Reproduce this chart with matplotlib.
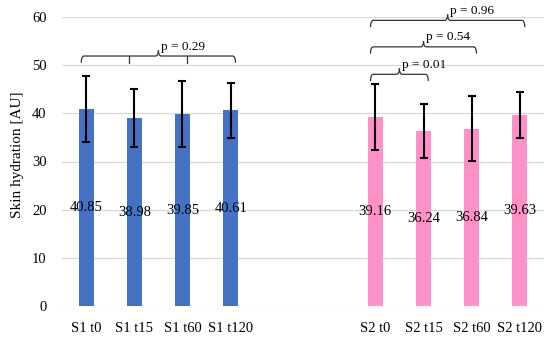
import numpy as np
import matplotlib
matplotlib.use('Agg')
import matplotlib.pyplot as plt
from matplotlib.path import Path
from matplotlib.patches import PathPatch

# data
labels = ['S1 t0', 'S1 t15', 'S1 t60', 'S1 t120', '', '',
          'S2 t0', 'S2 t15', 'S2 t60', 'S2 t120']
s1_vals = [40.85, 38.98, 39.85, 40.61]
s1_err = [6.85, 6.05, 6.8, 5.7]
s2_vals = [39.16, 36.24, 36.84, 39.63]
s2_err = [6.85, 5.6, 6.7, 4.8]
s1_pos = [0, 1, 2, 3]
s2_pos = [6, 7, 8, 9]

# significance brackets: (start, end, level, p label, extra down ticks)
brackets = [(-0.1, 3.1, 51.9, 'p = 0.29', [0.9, 2.1]),
            (5.9, 7.1, 48.1, 'p = 0.01', []),
            (5.9, 8.1, 53.8, 'p = 0.54', []),
            (5.9, 9.1, 59.3, 'p = 0.96', [])]

plt.rcParams['font.family'] = ['Liberation Serif', 'DejaVu Serif']

fig = plt.figure(figsize=(5.5, 3.4), dpi=100)
ax = fig.add_axes([0.1127, 0.1, 0.8764, 0.85])

w = 0.31
ekw = dict(ecolor='black', elinewidth=1.5, capsize=3.2, capthick=1.5)
ax.bar(s1_pos, s1_vals, w, yerr=s1_err, color='#4472c4', error_kw=ekw, zorder=2)
ax.bar(s2_pos, s2_vals, w, yerr=s2_err, color='#ff91c8', error_kw=ekw, zorder=2)

# value labels in the middle of each bar
for x, v in zip(s1_pos + s2_pos, s1_vals + s2_vals):
    ax.text(x, v / 2, f'{v:.2f}', ha='center', va='center', fontsize=10.5, zorder=3)


def brace(x0, x1, h, text, ticks):
    rx, d, u = 0.06, 1.4, 1.2
    xc = (x0 + x1) / 2
    verts = [(x0, h - d), (x0, h), (x0 + rx, h), (xc - rx, h), (xc, h), (xc, h + u),
             (xc, h), (xc + rx, h), (x1 - rx, h), (x1, h), (x1, h - d)]
    codes = [Path.MOVETO, Path.CURVE3, Path.CURVE3, Path.LINETO, Path.CURVE3, Path.CURVE3,
             Path.CURVE3, Path.CURVE3, Path.LINETO, Path.CURVE3, Path.CURVE3]
    ax.add_patch(PathPatch(Path(verts, codes), fill=False, lw=0.9, color='#333333',
                           clip_on=False, zorder=3))
    for t in ticks:
        ax.plot([t, t], [h, h - d], color='#333333', lw=0.9, clip_on=False, zorder=3)
    ax.text(xc + 0.06, h + u - 0.5, text, ha='left', va='bottom', fontsize=9.5, clip_on=False)


for b in brackets:
    brace(*b)

ax.set_xlim(-0.5, 9.5)
ax.set_ylim(0, 60)
ax.set_yticks(np.arange(0, 61, 10))
ax.set_xticks(range(len(labels)))
ax.set_xticklabels(labels)
ax.tick_params(axis='both', length=0, labelsize=10.5)
ax.tick_params(axis='y', pad=11)
ax.tick_params(axis='x', pad=11.5)
ax.grid(axis='y', color='#d9d9d9', lw=0.9, zorder=0)
ax.set_axisbelow(True)
for s in ax.spines.values():
    s.set_visible(False)
ax.set_ylabel('Skin hydration [AU]', fontsize=11)
ax.yaxis.set_label_coords(-0.079, 0.522)

fig.savefig('out.png', dpi=100)
